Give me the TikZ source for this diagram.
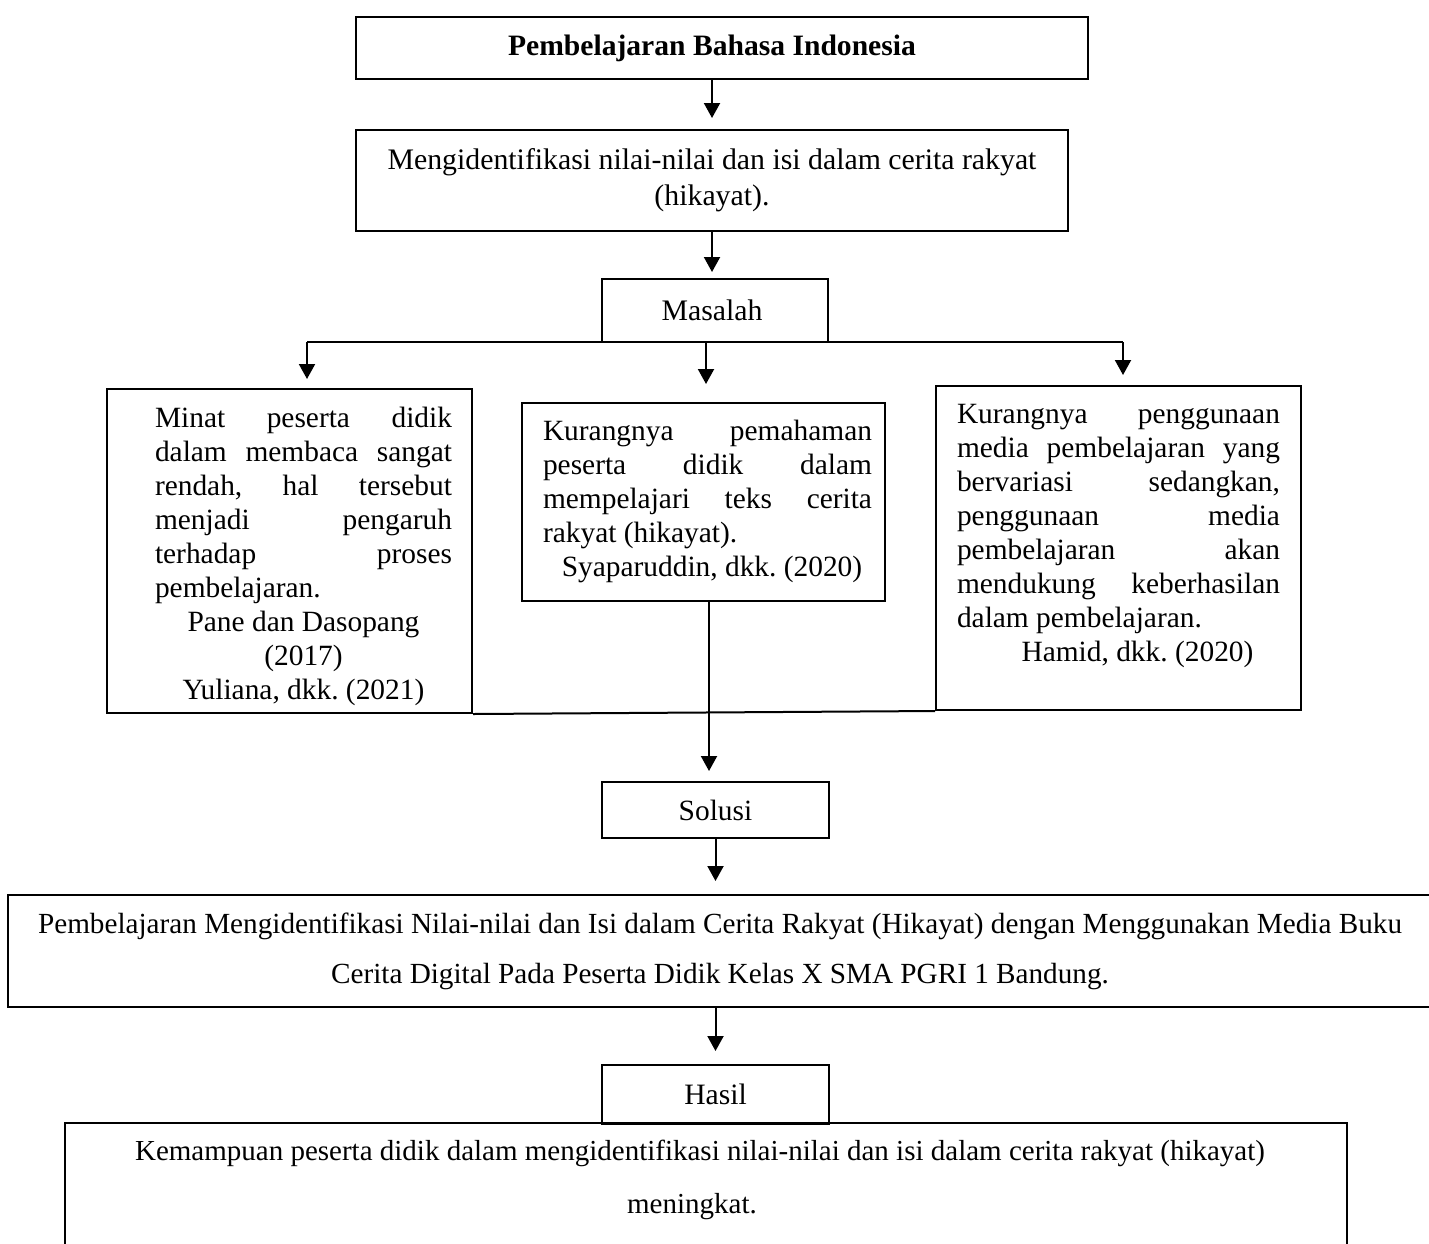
\documentclass[tikz,border=0pt]{standalone}
\usepackage{fontspec}
\setmainfont{Liberation Serif}
\usetikzlibrary{arrows.meta}
\hbadness=10000
\frenchspacing
\newcommand\tstrut{\rule{0pt}{10pt}}
% \fillbox{W}{H}{top gap}{left gap}{text width}{text}
\newcommand\fillbox[6]{\parbox[c][#2][t]{#1}{\frenchspacing\vspace*{#3}\hspace*{#4}\parbox[t]{#5}{\tstrut #6}}}
\begin{document}
\begin{tikzpicture}[x=0.5pt,y=-0.5pt,
  box/.style={draw, line width=1pt, inner sep=0pt, font=\fontsize{14.7}{17}\selectfont},
  arr/.style={line width=1pt, -{Triangle[width=8pt,length=7.5pt]}},
  ln/.style={line width=1pt}]
\useasboundingbox (0,0) rectangle (1429,1243);
\clip (0,0) rectangle (1429,1243);

\node[box, minimum width=366pt, minimum height=31pt, font=\fontsize{14.8}{17}\selectfont] (top) at (722,48)
  {\hspace*{-10pt}\textbf{Pembelajaran Bahasa Indonesia}};
\node[box, minimum width=356pt, minimum height=50.5pt, align=center,
  font=\fontsize{14.9}{18}\selectfont] (ident) at (712,180.5)
  {Mengidentifikasi nilai-nilai dan isi dalam cerita rakyat\\(hikayat).};
\node[box, minimum width=113pt, minimum height=31.5pt, font=\fontsize{14.9}{17}\selectfont] (mas) at (715,310.5) {\hspace*{-3pt}Masalah};

\node[box] (p1) at (289.5,551) {\fillbox{182.5pt}{162pt}{9pt}{24pt}{148.5pt}{%
  Minat peserta didik\linebreak dalam membaca sangat\linebreak rendah, hal tersebut\linebreak
  menjadi pengaruh\linebreak terhadap proses\linebreak pembelajaran.\par
  {\centering Pane dan Dasopang\\(2017)\\Yuliana, dkk. (2021)\par}}};
\node[box] (p2) at (703.5,502) {\fillbox{181.5pt}{99pt}{8.5pt}{10.5pt}{164.5pt}{%
  Kurangnya pemahaman\linebreak peserta didik dalam\linebreak mempelajari teks cerita\linebreak
  rakyat (hikayat).\par
  {\centering\hspace*{4.5pt}Syaparuddin, dkk. (2020)\par}}};
\node[box] (p3) at (1118.5,548) {\fillbox{182.5pt}{162pt}{8.5pt}{10.5pt}{161.5pt}{%
  Kurangnya penggunaan\linebreak media pembelajaran yang\linebreak bervariasi sedangkan,\linebreak
  penggunaan media\linebreak pembelajaran akan\linebreak mendukung keberhasilan\linebreak
  dalam pembelajaran.\par
  {\centering\hspace*{19pt}Hamid, dkk. (2020)\par}}};

\node[box, minimum width=113.5pt, minimum height=28pt] (sol) at (715.5,810) {Solusi};
\node[box, font=\fontsize{14.6}{25}\selectfont] (wide) at (720,951) {\fillbox{712pt}{56pt}{9pt}{0pt}{712pt}{%
  \centering Pembelajaran Mengidentifikasi Nilai-nilai dan Isi dalam Cerita Rakyat (Hikayat) dengan Menggunakan Media Buku\\
  Cerita Digital Pada Peserta Didik Kelas X SMA PGRI 1 Bandung.}};
\node[box, minimum width=113.5pt, minimum height=29.5pt, font=\fontsize{14.8}{17}\selectfont] (hasil) at (715.5,1094.5) {Hasil};
\node[box, font=\fontsize{14.5}{26.5}\selectfont] (kem) at (706,1191.5) {\fillbox{641pt}{68.5pt}{8.5pt}{0pt}{641pt}{%
  \centering\hspace*{-6pt}Kemampuan peserta didik dalam mengidentifikasi nilai-nilai dan isi dalam cerita rakyat (hikayat)\\
  \hspace*{-14pt}meningkat.}};

\coordinate (bl) at (307,342);
\coordinate (bm) at (706,342);
\coordinate (br) at (1123,342);
\coordinate (m1) at (709,601);

\draw[arr, shorten >=5.5pt] (ident.north |- top.south) -- (ident.north);
\draw[arr, shorten >=3pt] (ident.south) -- (ident.south |- mas.north);
\draw[ln] (bl) -- (br);
\draw[arr, shorten >=4.5pt] (bl) -- (bl |- p1.north);
\draw[arr, shorten >=9pt] (bm) -- (bm |- p2.north);
\draw[arr, shorten >=5pt] (br) -- (br |- p3.north);
\draw[ln] (p1.south east) -- (p3.south west);
\draw[arr, shorten >=5pt] (m1) -- (m1 |- sol.north);
\draw[arr, shorten >=6.5pt] (sol.south) -- (sol.south |- wide.north);
\draw[arr, shorten >=6.5pt] (wide.south -| hasil.north) -- (hasil.north);
\end{tikzpicture}
\end{document}
